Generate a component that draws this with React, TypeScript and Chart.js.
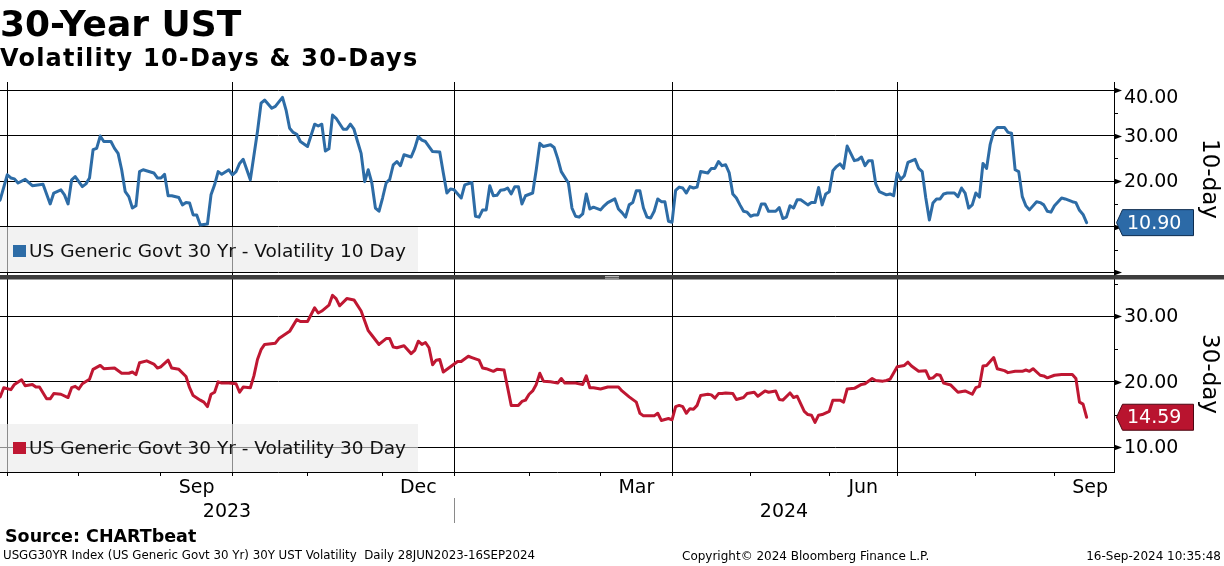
import React, { useEffect, useRef } from 'react';
import { Chart, registerables } from 'chart.js';

Chart.register(...registerables);

const FONT = '"DejaVu Sans", Verdana, sans-serif';

// x unit: trading-day index, 0 = 28 Jun 2023
const X_MIN = 0.957;
const X_MAX = 312.66;
const monthStarts = [3, 23, 46, 66, 87, 108, 128, 149, 169, 189, 211, 233, 252, 274, 296];
const quarterStarts = [3, 66, 128, 189, 252];
const monthLabels = ['Sep', 'Dec', 'Mar', 'Jun', 'Sep'];
const monthLabelFrom = [46, 108, 169, 233, 296];
const monthLabelTo = [66, 128, 189, 252, 316];
const yearLabels = ['2023', '2024'];
const yearBreak = 128;

// 10-day volatility
const days10 = [0, 1, 3, 4, 5, 6, 8, 10, 13, 15, 16, 18, 19, 20, 21, 22, 24, 25, 26, 27, 28, 29, 30, 32, 33, 34, 35, 36, 37, 38, 39, 40, 41, 44, 45, 46, 47, 48, 49, 51, 52, 53, 54, 55, 56, 57, 59, 60, 61, 62, 63, 65, 66, 67, 68, 69, 71, 73, 74, 75, 77, 78, 80, 81, 82, 83, 84, 85, 87, 89, 90, 91, 92, 93, 94, 95, 97, 98, 99, 100, 101, 102, 103, 104, 105, 106, 107, 108, 109, 110, 111, 112, 113, 114, 116, 117, 118, 119, 120, 122, 124, 125, 126, 127, 128, 130, 131, 133, 134, 135, 136, 137, 138, 139, 140, 141, 142, 143, 144, 145, 146, 147, 148, 150, 151, 152, 153, 155, 156, 157, 158, 160, 161, 162, 163, 164, 165, 166, 167, 169, 170, 171, 173, 174, 175, 176, 177, 178, 179, 180, 181, 182, 183, 184, 185, 186, 187, 188, 189, 190, 191, 192, 193, 194, 195, 196, 197, 199, 200, 201, 202, 203, 204, 205, 206, 207, 208, 209, 210, 211, 212, 213, 214, 215, 216, 218, 219, 220, 221, 222, 223, 224, 225, 227, 228, 229, 230, 231, 232, 233, 234, 235, 236, 237, 238, 239, 240, 241, 242, 243, 244, 245, 246, 247, 249, 250, 251, 252, 253, 254, 255, 257, 258, 259, 260, 261, 262, 263, 264, 265, 266, 268, 269, 270, 271, 272, 273, 274, 275, 276, 277, 278, 279, 280, 282, 283, 284, 285, 286, 287, 288, 289, 291, 292, 293, 294, 295, 296, 298, 299, 301, 302, 303, 304, 305];
const vol10 = [15.0, 15.9, 21.4, 20.7, 20.5, 19.6, 20.4, 19.0, 19.3, 15.0, 17.4, 18.1, 17.0, 15.0, 20.3, 21.0, 18.8, 19.4, 20.7, 26.9, 27.2, 29.9, 28.7, 28.7, 27.2, 26.1, 22.5, 17.7, 16.6, 14.1, 14.6, 22.1, 22.5, 21.8, 20.7, 20.7, 21.5, 16.8, 16.8, 16.4, 14.8, 15.3, 15.2, 12.6, 12.6, 10.4, 10.6, 17.0, 19.2, 22.1, 21.5, 22.5, 21.4, 22.1, 23.9, 24.8, 20.3, 30.9, 37.1, 37.8, 36.0, 36.4, 38.4, 35.6, 31.6, 30.7, 30.3, 28.7, 27.6, 32.5, 32.1, 32.5, 26.6, 27.1, 34.5, 33.8, 31.4, 31.4, 32.5, 31.4, 28.7, 26.1, 19.9, 22.5, 19.6, 14.1, 13.4, 16.3, 19.6, 20.4, 23.6, 24.3, 23.4, 25.8, 25.3, 27.2, 29.8, 29.0, 28.7, 26.5, 26.4, 21.8, 17.4, 18.3, 18.1, 16.3, 19.2, 19.7, 12.3, 12.1, 13.7, 13.7, 19.0, 16.8, 16.9, 18.0, 18.1, 18.5, 17.2, 18.8, 18.8, 15.0, 16.8, 17.4, 22.5, 28.3, 27.6, 28.0, 27.4, 25.0, 22.1, 19.6, 14.1, 12.3, 12.1, 12.8, 17.2, 13.9, 14.3, 13.7, 14.6, 15.3, 16.1, 13.9, 13.1, 12.1, 14.8, 15.3, 17.9, 17.9, 14.1, 12.1, 11.9, 13.4, 16.1, 15.5, 15.5, 11.2, 11.0, 18.0, 18.7, 18.5, 17.4, 18.8, 18.5, 18.7, 22.1, 21.8, 22.8, 22.8, 24.3, 23.4, 23.6, 21.8, 17.2, 16.3, 14.8, 13.4, 13.2, 12.3, 12.6, 12.6, 15.0, 15.0, 13.4, 13.4, 14.2, 11.8, 12.1, 14.6, 14.1, 15.9, 15.9, 14.8, 15.3, 15.3, 18.6, 14.8, 17.2, 17.7, 22.3, 23.2, 23.8, 22.8, 27.7, 26.1, 24.5, 24.7, 25.3, 23.4, 24.5, 24.5, 19.4, 17.7, 17.0, 17.2, 16.8, 21.8, 20.4, 21.2, 24.1, 24.8, 22.8, 22.1, 16.3, 11.5, 15.2, 16.1, 16.1, 17.2, 17.4, 17.4, 16.6, 18.5, 17.4, 14.1, 14.8, 17.4, 16.5, 23.9, 22.8, 28.0, 30.9, 31.8, 31.8, 30.7, 30.5, 22.5, 22.1, 16.6, 14.6, 13.7, 15.5, 15.3, 14.8, 13.4, 13.2, 14.6, 16.3, 16.1, 15.5, 15.3, 13.6, 12.7, 10.9];

// 30-day volatility
const days30 = [0, 1, 2, 4, 5, 7, 8, 10, 11, 12, 14, 15, 16, 18, 20, 21, 22, 23, 24, 26, 27, 29, 30, 33, 35, 37, 38, 39, 40, 42, 44, 45, 46, 48, 49, 51, 53, 54, 55, 57, 58, 59, 60, 61, 62, 63, 65, 67, 68, 69, 71, 72, 73, 74, 75, 78, 79, 82, 84, 85, 87, 89, 90, 91, 93, 94, 95, 96, 98, 99, 100, 102, 104, 105, 107, 109, 110, 111, 112, 114, 116, 117, 118, 119, 120, 121, 122, 123, 124, 125, 127, 129, 130, 132, 133, 135, 136, 137, 139, 140, 142, 143, 144, 146, 147, 148, 149, 150, 151, 152, 153, 155, 157, 158, 159, 162, 164, 165, 166, 167, 169, 171, 172, 174, 175, 177, 179, 180, 181, 184, 185, 186, 188, 189, 190, 191, 192, 193, 194, 195, 196, 197, 199, 200, 201, 202, 203, 204, 206, 207, 209, 210, 212, 213, 215, 216, 218, 219, 220, 222, 223, 224, 226, 227, 228, 229, 230, 231, 233, 234, 236, 237, 238, 240, 242, 243, 245, 246, 248, 249, 250, 252, 254, 255, 256, 258, 260, 261, 262, 263, 264, 265, 267, 269, 271, 273, 274, 275, 276, 277, 279, 280, 282, 283, 285, 287, 288, 289, 290, 292, 293, 294, 296, 298, 301, 302, 303, 304, 305];
const vol30 = [17.3, 17.7, 19.1, 18.8, 19.6, 20.3, 19.4, 19.6, 19.2, 19.2, 17.4, 17.4, 18.2, 18.1, 17.6, 19.1, 19.3, 18.9, 19.7, 20.4, 21.9, 22.5, 22.0, 22.1, 21.3, 21.3, 21.5, 21.1, 22.9, 23.2, 22.7, 22.1, 22.3, 23.3, 22.1, 21.9, 20.8, 19.1, 17.9, 17.2, 16.9, 16.2, 18.1, 18.4, 20.0, 19.8, 19.8, 19.7, 18.4, 19.2, 19.1, 20.9, 23.4, 24.9, 25.7, 25.9, 26.6, 27.7, 29.5, 29.2, 29.2, 31.3, 30.5, 30.8, 31.7, 33.2, 32.7, 31.6, 32.7, 32.6, 32.5, 30.8, 27.8, 27.1, 25.7, 26.6, 26.6, 25.3, 25.2, 25.5, 24.3, 24.8, 26.2, 25.7, 26.0, 25.2, 22.6, 23.3, 23.4, 21.5, 22.3, 23.1, 23.1, 23.9, 23.7, 23.3, 22.1, 22.0, 21.6, 21.9, 21.8, 19.1, 16.4, 16.4, 17.0, 17.2, 18.1, 18.6, 19.6, 21.3, 20.1, 20.0, 19.8, 20.5, 19.8, 19.8, 19.6, 20.9, 19.1, 19.1, 18.9, 19.2, 19.2, 19.2, 18.6, 17.7, 16.9, 15.2, 14.8, 14.8, 15.2, 14.1, 14.4, 14.2, 16.2, 16.4, 16.2, 15.2, 15.9, 15.8, 16.4, 17.9, 18.1, 18.0, 17.5, 18.2, 18.2, 18.3, 18.2, 17.3, 17.6, 18.2, 18.4, 17.8, 18.6, 18.4, 18.6, 17.3, 17.2, 18.3, 17.6, 17.8, 15.5, 15.0, 14.9, 13.8, 14.9, 15.0, 15.5, 17.2, 17.2, 16.9, 18.9, 19.0, 19.6, 19.7, 20.5, 20.2, 20.1, 20.2, 20.4, 22.3, 22.5, 23.0, 22.4, 21.6, 21.7, 20.5, 20.6, 21.1, 21.0, 19.8, 19.5, 18.4, 18.6, 18.1, 19.1, 19.3, 22.4, 22.5, 23.7, 22.0, 21.7, 21.4, 21.6, 21.6, 21.8, 21.6, 22.0, 21.0, 20.9, 20.6, 21.0, 21.1, 21.1, 20.5, 16.9, 16.6, 14.59];

const last10 = 10.9;
const last30 = 14.59;

const ticks10 = [0, 5, 10, 15, 20, 25, 30, 35, 40];
const labels10 = [10, 20, 30, 40];
const ticks30 = [10, 15, 20, 25, 30, 35];
const labels30 = [10, 20, 30];

const legend10 = 'US Generic Govt 30 Yr - Volatility 10 Day';
const legend30 = 'US Generic Govt 30 Yr - Volatility 30 Day';
const title10 = '10-day';
const title30 = '30-day';

const BLUE = '#2d6ca6';
const RED = '#bf1732';
const BLUE_BOX = '#2c6aa7';
const RED_BOX = '#b9142f';

function drawValueBox(ctx: CanvasRenderingContext2D, x: number, y: number, text: string, fill: string, stroke: string) {
  const tip = x + 2.5;
  const left = x + 8.5;
  const right = x + 79.5;
  const h = 26;
  ctx.save();
  ctx.beginPath();
  ctx.moveTo(tip, y);
  ctx.lineTo(left, y - h / 2);
  ctx.lineTo(right, y - h / 2);
  ctx.lineTo(right, y + h / 2);
  ctx.lineTo(left, y + h / 2);
  ctx.closePath();
  ctx.fillStyle = fill;
  ctx.fill();
  ctx.lineWidth = 1;
  ctx.strokeStyle = stroke;
  ctx.stroke();
  ctx.fillStyle = '#ffffff';
  ctx.font = `19px ${FONT}`;
  ctx.textAlign = 'left';
  ctx.textBaseline = 'middle';
  ctx.fillText(text, x + 13, y + 1);
  ctx.restore();
}

const overlayPlugin = {
  id: 'overlay',
  beforeDatasetsDraw(chart: any) {
    const ctx: CanvasRenderingContext2D = chart.ctx;
    const s10 = chart.scales.y10;
    const s30 = chart.scales.y30;
    const boxes = [
      { top: s10.bottom - 49, bottom: s10.bottom - 4, text: legend10, color: BLUE, dy: 2.5 },
      { top: s30.bottom - 48, bottom: s30.bottom, text: legend30, color: RED, dy: 1 },
    ];
    ctx.save();
    for (const b of boxes) {
      ctx.fillStyle = 'rgba(234,234,234,0.6)';
      ctx.fillRect(0, b.top, 418, b.bottom - b.top);
      const cy = (b.top + b.bottom) / 2 + b.dy;
      ctx.fillStyle = b.color;
      ctx.fillRect(13, cy - 7, 13, 12);
      ctx.fillStyle = '#111111';
      ctx.font = `18.5px ${FONT}`;
      ctx.textAlign = 'left';
      ctx.textBaseline = 'middle';
      ctx.fillText(b.text, 29, cy);
    }
    ctx.restore();
  },
  afterDraw(chart: any) {
    const ctx: CanvasRenderingContext2D = chart.ctx;
    const xs = chart.scales.x;
    const s10 = chart.scales.y10;
    const s30 = chart.scales.y30;
    const W = chart.width;
    ctx.save();

    // panel separator
    const sepY = s10.bottom - 1;
    ctx.fillStyle = '#3d3d3d';
    ctx.fillRect(0, sepY, W, 4.5);
    ctx.strokeStyle = '#b4b4b4';
    ctx.lineWidth = 1;
    ctx.beginPath();
    ctx.moveTo(605, sepY + 1.5);
    ctx.lineTo(619, sepY + 1.5);
    ctx.moveTo(605, sepY + 3.2);
    ctx.lineTo(619, sepY + 3.2);
    ctx.stroke();

    // right axis tick marks + labels
    const axes = [
      { sc: s10, ticks: ticks10, labels: labels10 },
      { sc: s30, ticks: ticks30, labels: labels30 },
    ];
    for (const a of axes) {
      const ax = a.sc.left;
      for (const v of a.ticks) {
        const y = Math.round(a.sc.getPixelForValue(v)) + 0.5;
        ctx.fillStyle = '#000';
        ctx.strokeStyle = '#000';
        if (v % 10 === 0) {
          ctx.beginPath();
          ctx.moveTo(ax, y - 3);
          ctx.lineTo(ax + 8, y);
          ctx.lineTo(ax, y + 3);
          ctx.closePath();
          ctx.fill();
        } else {
          ctx.beginPath();
          ctx.moveTo(ax, y);
          ctx.lineTo(ax + 4, y);
          ctx.stroke();
        }
      }
      ctx.font = `19px ${FONT}`;
      ctx.textAlign = 'left';
      ctx.textBaseline = 'middle';
      ctx.fillStyle = '#000';
      for (const v of a.labels) {
        let y = a.sc.getPixelForValue(v);
        y = Math.max(y, a.sc.top + 15.5);
        ctx.fillText(v.toFixed(2), ax + 10, y + 1);
      }
    }

    // last value boxes
    drawValueBox(ctx, s10.left, s10.getPixelForValue(last10), last10.toFixed(2), BLUE_BOX, '#0d2c4f');
    drawValueBox(ctx, s30.left, s30.getPixelForValue(last30), last30.toFixed(2), RED_BOX, '#4d0612');

    // x labels
    ctx.fillStyle = '#000';
    ctx.font = `19px ${FONT}`;
    ctx.textAlign = 'center';
    ctx.textBaseline = 'middle';
    const axisY = xs.top;
    monthLabels.forEach((lab, i) => {
      const cx = xs.getPixelForValue((monthLabelFrom[i] + monthLabelTo[i]) / 2);
      ctx.fillText(lab, cx, axisY + 16);
    });
    const yr = [
      (X_MIN + yearBreak) / 2,
      (yearBreak + X_MAX) / 2,
    ];
    yearLabels.forEach((lab, i) => {
      ctx.fillText(lab, xs.getPixelForValue(yr[i]), axisY + 40);
    });
    const bx = Math.round(xs.getPixelForValue(yearBreak)) + 0.5;
    ctx.strokeStyle = '#8a8a8a';
    ctx.lineWidth = 1;
    ctx.beginPath();
    ctx.moveTo(bx, axisY + 26);
    ctx.lineTo(bx, axisY + 51);
    ctx.stroke();
    ctx.restore();
  },
};

function yAxis(min: number, max: number, weight: number, ticks: number[], title: string) {
  return {
    type: 'linear' as const,
    position: 'right' as const,
    stack: 'vol',
    stackWeight: weight,
    min,
    max,
    afterBuildTicks: (s: any) => {
      s.ticks = ticks.map((v) => ({ value: v }));
    },
    afterFit: (s: any) => {
      s.width = 110;
    },
    ticks: { display: false },
    grid: {
      drawTicks: false,
      lineWidth: 1,
      color: (c: any) => (c.tick && c.tick.value % 10 === 0 ? '#000000' : 'rgba(0,0,0,0)'),
    },
    border: { display: true, color: '#000', width: 1 },
    title: {
      display: true,
      text: title,
      color: '#000',
      font: { family: FONT, size: 23, lineHeight: 1.2 },
      padding: { top: 1, bottom: 0 },
    },
  };
}

export default function App() {
  const ref = useRef<HTMLCanvasElement | null>(null);

  useEffect(() => {
    if (!ref.current) return;
    const chart = new Chart(ref.current, {
      type: 'line',
      data: {
        datasets: [
          {
            label: legend10,
            data: days10.map((d, i) => ({ x: d, y: vol10[i] })),
            yAxisID: 'y10',
            borderColor: BLUE,
            backgroundColor: BLUE,
            borderWidth: 3,
            pointRadius: 0,
            tension: 0,
            borderJoinStyle: 'round',
            borderCapStyle: 'round',
          },
          {
            label: legend30,
            data: days30.map((d, i) => ({ x: d, y: vol30[i] })),
            yAxisID: 'y30',
            borderColor: RED,
            backgroundColor: RED,
            borderWidth: 3,
            pointRadius: 0,
            tension: 0,
            borderJoinStyle: 'round',
            borderCapStyle: 'round',
          },
        ],
      },
      options: {
        animation: false,
        responsive: false,
        maintainAspectRatio: false,
        parsing: false,
        layout: { padding: { left: 0, right: 0, top: 82, bottom: 0 } },
        plugins: {
          legend: { display: false },
          tooltip: { enabled: false },
          title: { display: false },
        },
        scales: {
          x: {
            type: 'linear',
            position: 'bottom',
            min: X_MIN,
            max: X_MAX,
            afterBuildTicks: (s: any) => {
              s.ticks = monthStarts.map((v) => ({ value: v }));
            },
            afterFit: (s: any) => {
              s.height = 94;
            },
            ticks: { display: false },
            grid: {
              drawTicks: true,
              tickLength: 4,
              tickColor: '#000',
              tickWidth: 1,
              lineWidth: 1,
              color: (c: any) => (c.tick && quarterStarts.includes(c.tick.value) ? '#000000' : 'rgba(0,0,0,0)'),
            },
            border: { display: true, color: '#000', width: 1 },
          },
          y10: yAxis(-0.81, 41.76, 194, ticks10, title10),
          y30: yAxis(6.23, 36.15, 196, ticks30, title30),
        },
      } as any,
      plugins: [overlayPlugin],
    });
    return () => chart.destroy();
  }, []);

  const abs: React.CSSProperties = { position: 'absolute', whiteSpace: 'pre', fontFamily: FONT, color: '#000' };

  return (
    <div style={{ position: 'absolute', left: 0, top: 0, width: 1224, height: 566, background: '#fff', overflow: 'hidden' }}>
      <canvas ref={ref} width={1224} height={566} style={{ position: 'absolute', left: 0, top: 0, width: 1224, height: 566 }} />
      <div style={{ ...abs, left: 0, top: 6, fontSize: 36, lineHeight: '36px', fontWeight: 'bold' }}>30-Year UST</div>
      <div style={{ ...abs, left: 0, top: 46, fontSize: 24, lineHeight: '24px', fontWeight: 'bold', letterSpacing: '1.2px' }}>
        Volatility 10-Days &amp; 30-Days
      </div>
      <div style={{ ...abs, left: 5, top: 528.2, fontSize: 17.5, lineHeight: '17.5px', fontWeight: 'bold' }}>Source: CHARTbeat</div>
      <div style={{ ...abs, left: 3, top: 550, fontSize: 11.8, lineHeight: '11.8px' }}>
        USGG30YR Index (US Generic Govt 30 Yr) 30Y UST Volatility  Daily 28JUN2023-16SEP2024
      </div>
      <div style={{ ...abs, left: 682, top: 550, fontSize: 12, lineHeight: '12px' }}>Copyright© 2024 Bloomberg Finance L.P.</div>
      <div style={{ ...abs, right: 3, top: 550, fontSize: 12, lineHeight: '12px' }}>16-Sep-2024 10:35:48</div>
    </div>
  );
}
